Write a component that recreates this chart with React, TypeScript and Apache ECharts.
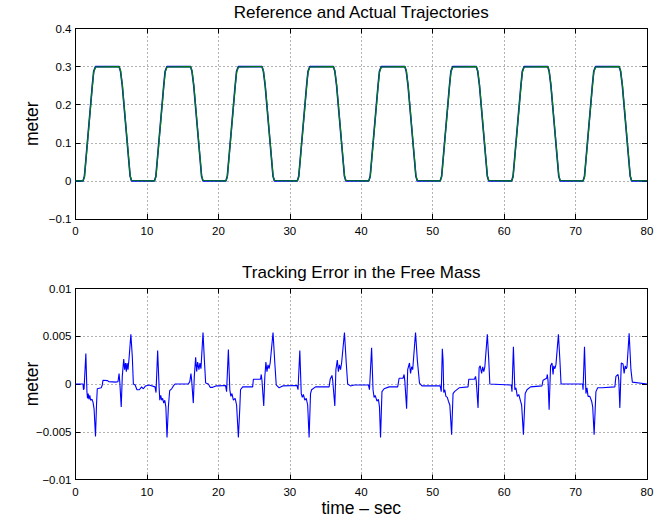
import React, { useEffect, useRef } from "react";
import * as echarts from "echarts";

// ---------- data ----------
const xTicks = [0, 10, 20, 30, 40, 50, 60, 70, 80];
const topYTicks = [-0.1, 0, 0.1, 0.2, 0.3, 0.4];
const bottomYTicks = [-0.01, -0.005, 0, 0.005, 0.01];

const trajTime = [
  0,
  1.05, 1.25, 1.45, 2.35, 2.55, 2.8, 6.1, 6.3, 6.55, 7.45, 7.65, 7.85,
  11.05, 11.25, 11.45, 12.35, 12.55, 12.8, 16.1, 16.3, 16.55, 17.45, 17.65, 17.85,
  21.05, 21.25, 21.45, 22.35, 22.55, 22.8, 26.1, 26.3, 26.55, 27.45, 27.65, 27.85,
  31.05, 31.25, 31.45, 32.35, 32.55, 32.8, 36.1, 36.3, 36.55, 37.45, 37.65, 37.85,
  41.05, 41.25, 41.45, 42.35, 42.55, 42.8, 46.1, 46.3, 46.55, 47.45, 47.65, 47.85,
  51.05, 51.25, 51.45, 52.35, 52.55, 52.8, 56.1, 56.3, 56.55, 57.45, 57.65, 57.85,
  61.05, 61.25, 61.45, 62.35, 62.55, 62.8, 66.1, 66.3, 66.55, 67.45, 67.65, 67.85,
  71.05, 71.25, 71.45, 72.35, 72.55, 72.8, 76.1, 76.3, 76.55, 77.45, 77.65, 77.85,
  80,
];

const refPos = [
  0,
  0, 0.012, 0.055, 0.25, 0.288, 0.3, 0.3, 0.288, 0.25, 0.055, 0.012, 0,
  0, 0.012, 0.055, 0.25, 0.288, 0.3, 0.3, 0.288, 0.25, 0.055, 0.012, 0,
  0, 0.012, 0.055, 0.25, 0.288, 0.3, 0.3, 0.288, 0.25, 0.055, 0.012, 0,
  0, 0.012, 0.055, 0.25, 0.288, 0.3, 0.3, 0.288, 0.25, 0.055, 0.012, 0,
  0, 0.012, 0.055, 0.25, 0.288, 0.3, 0.3, 0.288, 0.25, 0.055, 0.012, 0,
  0, 0.012, 0.055, 0.25, 0.288, 0.3, 0.3, 0.288, 0.25, 0.055, 0.012, 0,
  0, 0.012, 0.055, 0.25, 0.288, 0.3, 0.3, 0.288, 0.25, 0.055, 0.012, 0,
  0, 0.012, 0.055, 0.25, 0.288, 0.3, 0.3, 0.288, 0.25, 0.055, 0.012, 0,
  0,
];

const actPos = [
  0,
  0, 0.01, 0.052, 0.247, 0.285, 0.299, 0.3, 0.29, 0.253, 0.058, 0.014, 0.001,
  0, 0.01, 0.052, 0.247, 0.285, 0.299, 0.3, 0.29, 0.253, 0.058, 0.014, 0.001,
  0, 0.01, 0.052, 0.247, 0.285, 0.299, 0.3, 0.29, 0.253, 0.058, 0.014, 0.001,
  0, 0.01, 0.052, 0.247, 0.285, 0.299, 0.3, 0.29, 0.253, 0.058, 0.014, 0.001,
  0, 0.01, 0.052, 0.247, 0.285, 0.299, 0.3, 0.29, 0.253, 0.058, 0.014, 0.001,
  0, 0.01, 0.052, 0.247, 0.285, 0.299, 0.3, 0.29, 0.253, 0.058, 0.014, 0.001,
  0, 0.01, 0.052, 0.247, 0.285, 0.299, 0.3, 0.29, 0.253, 0.058, 0.014, 0.001,
  0, 0.01, 0.052, 0.247, 0.285, 0.299, 0.3, 0.29, 0.253, 0.058, 0.014, 0.001,
  0,
];

const errTime = [
  // cycle 0
  0, 1.05, 1.12, 1.2, 1.45, 1.6, 1.68, 1.78, 1.88, 2.0, 2.12, 2.3, 2.45, 2.6, 2.8, 2.95, 3.05,
  3.6, 3.75, 3.85, 4.5, 4.65, 5.7, 5.95, 6.1, 6.2, 6.4, 6.55, 6.75, 6.88, 7.0, 7.12, 7.22,
  7.35, 7.5, 7.75, 7.95, 8.1, 8.35, 8.6, 8.95, 9.25, 9.5, 9.8, 10.3, 11.13,
  // cycle 1
  11.27, 11.5, 11.7, 11.8, 11.93, 12.07, 12.2, 12.35, 12.5, 12.65, 12.81, 13.0, 13.18, 13.46,
  13.7, 13.93, 15.79, 16.0, 16.16, 16.26, 16.49, 16.63, 16.82, 16.96, 17.1, 17.28, 17.42,
  17.56, 17.85, 18.04, 18.22, 18.6, 18.85, 19.2, 19.65, 20.0, 21.0,
  // cycle 2
  21.15, 21.4, 21.6, 21.75, 21.9, 22.1, 22.35, 22.55, 22.8, 23.0, 23.1, 23.4, 24.8, 24.9,
  25.9, 26.0, 26.1, 26.35, 26.5, 26.65, 26.8, 26.95, 27.1, 27.25, 27.65, 27.9, 28.1, 28.5,
  29.0, 31.0,
  // cycle 3
  31.15, 31.4, 31.6, 31.75, 31.9, 32.1, 32.3, 32.5, 32.7, 32.9, 33.05, 33.6, 35.5, 35.65,
  35.9, 36.0, 36.3, 36.45, 36.65, 36.8, 36.95, 37.1, 37.25, 37.65, 37.9, 38.1, 38.5, 39.0,
  41.0,
  // cycle 4
  41.15, 41.45, 41.65, 41.8, 41.95, 42.2, 42.4, 42.55, 42.7, 42.9, 43.2, 43.9, 45.1, 45.3,
  45.85, 46.0, 46.1, 46.35, 46.5, 46.75, 46.9, 47.05, 47.2, 47.6, 47.85, 48.15, 48.5, 51.05,
  // cycle 5
  51.2, 51.35, 51.45, 51.55, 51.7, 51.85, 52.05, 52.2, 52.4, 52.65, 52.85, 53.05, 53.7,
  54.95, 55.05, 55.85, 56.0, 56.1, 56.35, 56.5, 56.65, 56.85, 57.0, 57.15, 57.3, 57.65,
  57.85, 58.0, 60.9, 61.0,
  // cycle 6
  61.1, 61.3, 61.5, 61.65, 61.85, 62.05, 62.3, 62.45, 62.7, 62.95, 63.2, 63.7, 65.3, 65.45,
  65.95, 66.05, 66.15, 66.3, 66.5, 66.7, 66.85, 66.95, 67.1, 67.25, 67.6, 67.8, 67.97, 70.98,
  // cycle 7
  71.05, 71.25, 71.45, 71.6, 71.75, 72.0, 72.25, 72.4, 72.6, 72.85, 73.1, 73.7, 75.5, 75.65,
  75.95, 76.05, 76.2, 76.4, 76.65, 76.8, 76.95, 77.1, 77.2, 77.5, 77.75, 77.95, 80,
];

const errVal = [
  // cycle 0
  0, 0, -0.0006, -0.0005, 0.0032, -0.0008, -0.0015, -0.001, -0.0016, -0.0012, -0.0017, -0.0016,
  -0.0019, -0.0026, -0.0055, -0.002, -0.0005,
  -0.0004, -0.0001, 0.0004, 0.00035, 0.00025, 0.0002, 0.00025, 0.0011, 0.0002, -0.0024, 0.0008,
  0.0026, 0.0015, 0.0022, 0.0013, 0.0022,
  0.0015, 0.0027, 0.0052, 0.0029, 0, -0.0001, -0.0006, -0.0006, -0.0003, -0.0005, -0.0002,
  -0.0001, -0.0003,
  // cycle 1
  -0.0009, 0.0035, -0.0003, -0.0017, -0.0012, -0.0017, -0.0015, -0.002, -0.0017, -0.0024,
  -0.0056, -0.0024, -0.0007, -0.0005,
  -0.0002, 0, 0, 0.00025, 0.0011, 0.0004, -0.002, 0.0008, 0.0028, 0.0013, 0.0023, 0.0015, 0.0022,
  0.0016, 0.0054, 0.0025, 0.0001, 0, -0.00035, -0.00035, -0.0002, -0.0002, -0.00015,
  // cycle 2
  -0.0008, 0.0036, -0.0006, -0.0013, -0.001, -0.0017, -0.0015, -0.0022, -0.0056, -0.0025,
  -0.0006, -0.0003, -0.0003, 0.0005,
  0.0005, 0.001, 0.0004, -0.0023, 0.0007, 0.0023, 0.0013, 0.002, 0.0016, 0.0022, 0.0054,
  0.0022, -0.0001, -0.0004,
  -0.0002, -0.00015,
  // cycle 3
  -0.0006, 0.0035, -0.001, -0.0014, -0.0011, -0.0017, -0.0015, -0.0022, -0.0056, -0.001,
  -0.0006, -0.0003, -0.0003, 0.0005,
  0.0009, 0.0004, -0.0023, 0.0015, 0.0025, 0.0013, 0.002, 0.0015, 0.0022, 0.0054, 0.0022, 0,
  -0.0002, -0.0001,
  -0.0001,
  // cycle 4
  -0.0006, 0.0038, -0.0006, -0.0014, -0.0012, -0.0018, -0.0016, -0.0024, -0.0056, -0.0008,
  -0.0005, -0.0003, -0.0003, 0.0006,
  0.0006, 0.001, 0.0003, -0.0026, 0.0015, 0.0022, 0.0011, 0.0018, 0.0015, 0.0054, 0.0025,
  0.0001, -0.0002, -0.0002,
  // cycle 5
  -0.0008, 0.0037, 0.0025, -0.0009, -0.0006, -0.0013, -0.0014, -0.0018, -0.0022, -0.0053,
  -0.001, -0.0008, -0.0004,
  -0.0003, 0.0005, 0.0005, 0.0008, 0.0003, -0.0025, 0.0017, 0.0019, 0.0011, 0.0018, 0.0013,
  0.0018, 0.0052,
  0.0025, 0, -0.0001, -0.0001,
  // cycle 6
  -0.0008, 0.0039, -0.0006, -0.0004, -0.0013, -0.0011, -0.0018, -0.0022, -0.0053, -0.001,
  -0.0006, -0.0003, -0.0002, 0.0004,
  0.0006, 0.001, 0.0003, -0.0027, 0.0019, 0.0022, 0.001, 0.0019, 0.0016, 0.002, 0.0052, 0.0026,
  0, 0,
  // cycle 7
  -0.0006, 0.0039, -0.001, -0.0004, -0.0013, -0.0013, -0.0018, -0.0024, -0.0053, -0.0008,
  -0.0004, -0.0004, -0.0003, 0.0008,
  0.001, 0.0004, -0.0025, 0.0022, 0.0021, 0.0011, 0.0019, 0.0016, 0.0018, 0.0053, 0.0015,
  0.0002, 0,
];

const titles = ["Reference and Actual Trajectories", "Tracking Error in the Free Mass"];
const yAxisName = "meter";
const xAxisName = "time \u2013 sec";

// ---------- layout ----------
const FONT = "'Liberation Sans', Arial, Helvetica, sans-serif";
const W = 663;
const H = 521;
const GL = 75.5;
const GW = 571.5;
const TOP1 = 28.5;
const H1 = 190.5;
const TOP2 = 288.5;
const H2 = 191;

function pairs(xs: number[], ys: number[]) {
  return xs.map((x, i) => [x, ys[i]]);
}

function fmt(v: number) {
  const s = String(parseFloat(v.toFixed(4)));
  return s.replace("-", "\u2212");
}

function xAxisDef(grid: number, pos: "bottom" | "top") {
  const main = pos === "bottom";
  return {
    type: "value",
    gridIndex: grid,
    position: pos,
    min: xTicks[0],
    max: xTicks[xTicks.length - 1],
    interval: xTicks[1] - xTicks[0],
    axisLine: { show: true, onZero: false, lineStyle: { color: "#000", width: 1 } },
    axisTick: { show: true, inside: true, length: 5, lineStyle: { color: "#000", width: 1 } },
    axisLabel: {
      show: main,
      color: "#000",
      fontSize: 11.5,
      fontFamily: FONT,
      margin: 6,
    },
    splitLine: {
      show: main,
      lineStyle: { type: [1, 3], color: "#666", width: 1 },
    },
  };
}

function yAxisDef(grid: number, pos: "left" | "right", ticks: number[]) {
  const main = pos === "left";
  return {
    type: "value",
    gridIndex: grid,
    position: pos,
    min: ticks[0],
    max: ticks[ticks.length - 1],
    interval: ticks[1] - ticks[0],
    axisLine: { show: true, onZero: false, lineStyle: { color: "#000", width: 1 } },
    axisTick: { show: true, inside: true, length: 5, lineStyle: { color: "#000", width: 1 } },
    axisLabel: {
      show: main,
      color: "#000",
      fontSize: 11.5,
      fontFamily: FONT,
      margin: 4,
      formatter: (v: number) => fmt(v),
    },
    splitLine: {
      show: main,
      lineStyle: { type: [1, 3], color: "#666", width: 1 },
    },
  };
}

export default function App() {
  const ref = useRef<HTMLDivElement | null>(null);

  useEffect(() => {
    if (!ref.current) return;
    const chart = echarts.init(ref.current, undefined, { renderer: "svg", width: W, height: H });
    const cx = GL + GW / 2;
    const option: any = {
      animation: false,
      backgroundColor: "#fff",
      grid: [
        { left: GL, top: TOP1, width: GW, height: H1, outerBoundsMode: "none" },
        { left: GL, top: TOP2, width: GW, height: H2, outerBoundsMode: "none" },
      ],
      xAxis: [
        xAxisDef(0, "bottom"),
        xAxisDef(0, "top"),
        xAxisDef(1, "bottom"),
        xAxisDef(1, "top"),
      ],
      yAxis: [
        yAxisDef(0, "left", topYTicks),
        yAxisDef(0, "right", topYTicks),
        yAxisDef(1, "left", bottomYTicks),
        yAxisDef(1, "right", bottomYTicks),
      ],
      series: [
        {
          name: "Reference",
          type: "line",
          xAxisIndex: 0,
          yAxisIndex: 0,
          data: pairs(trajTime, refPos),
          showSymbol: false,
          symbol: "none",
          smooth: false,
          lineStyle: { color: "#0000ff", width: 1.6 },
          itemStyle: { color: "#0000ff" },
          z: 3,
        },
        {
          name: "Actual",
          type: "line",
          xAxisIndex: 0,
          yAxisIndex: 0,
          data: pairs(trajTime, actPos),
          showSymbol: false,
          symbol: "none",
          lineStyle: { color: "#008000", width: 1.2 },
          itemStyle: { color: "#008000" },
          z: 4,
        },
        {
          name: "Error",
          type: "line",
          xAxisIndex: 2,
          yAxisIndex: 2,
          data: pairs(errTime, errVal),
          showSymbol: false,
          symbol: "none",
          lineStyle: { color: "#0000ff", width: 1.1 },
          itemStyle: { color: "#0000ff" },
          z: 3,
        },
      ],
      graphic: [
        {
          type: "text",
          x: cx,
          y: 12,
          style: {
            text: titles[0],
            fontSize: 17,
            fontFamily: FONT,
            fill: "#000",
            textAlign: "center",
            textVerticalAlign: "middle",
          },
        },
        {
          type: "text",
          x: cx,
          y: 272,
          style: {
            text: titles[1],
            fontSize: 17,
            fontFamily: FONT,
            fill: "#000",
            textAlign: "center",
            textVerticalAlign: "middle",
          },
        },
        {
          type: "text",
          x: 32,
          y: TOP1 + H1 / 2,
          rotation: Math.PI / 2,
          style: {
            text: yAxisName,
            fontSize: 17.5,
            fontFamily: FONT,
            fill: "#000",
            textAlign: "center",
            textVerticalAlign: "middle",
          },
        },
        {
          type: "text",
          x: 32,
          y: TOP2 + H2 / 2,
          rotation: Math.PI / 2,
          style: {
            text: yAxisName,
            fontSize: 17.5,
            fontFamily: FONT,
            fill: "#000",
            textAlign: "center",
            textVerticalAlign: "middle",
          },
        },
        {
          type: "text",
          x: cx,
          y: 508,
          style: {
            text: xAxisName,
            fontSize: 17.5,
            fontFamily: FONT,
            fill: "#000",
            textAlign: "center",
            textVerticalAlign: "middle",
          },
        },
      ],
    };
    chart.setOption(option);
    return () => {
      chart.dispose();
    };
  }, []);

  return (
    <div
      ref={ref}
      style={{
        position: "fixed",
        left: 0,
        top: 0,
        width: W,
        height: H,
        background: "#fff",
      }}
    />
  );
}
